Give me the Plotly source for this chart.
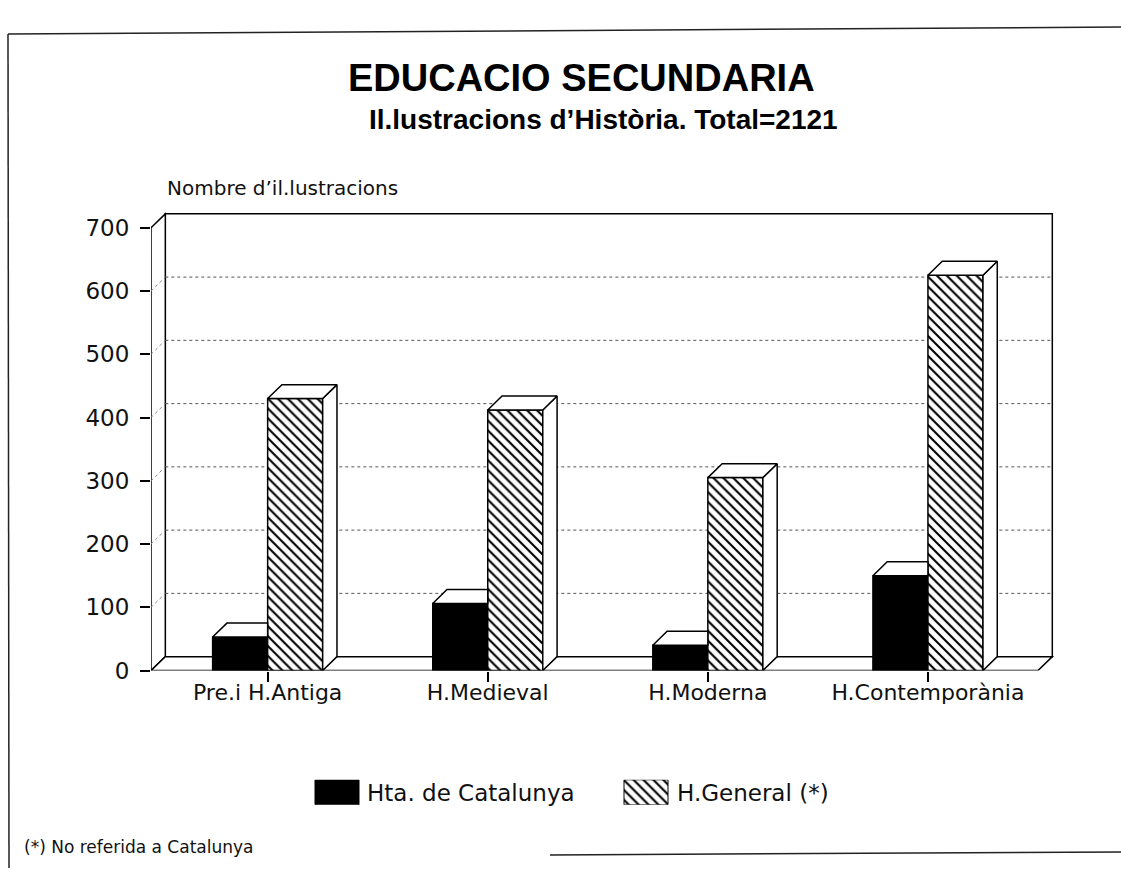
import plotly.graph_objects as go

# data (Total = 2121)
categories = ["Pre.i H.Antiga", "H.Medieval", "H.Moderna", "H.Contemporània"]
catalunya = [53, 106, 40, 150]
general = [430, 412, 305, 625]
y_ticks = [0, 100, 200, 300, 400, 500, 600, 700]
series_names = ["Hta. de Catalunya", "H.General (*)"]

W, H = 1121, 881
H_MAP = 866                       # vertical positions measured on the reference map onto this
x_left, x_right = -0.53, 3.5      # front edges of the floor
depth_x, depth_y = 0.065, 22      # 3D depth offset in data units
bar_w = 0.25
y_top = 700


def px(x):
    return x / W


def py(y):
    return 1 - y / H_MAP


fig = go.Figure()

# front faces
fig.add_trace(go.Bar(
    x=list(range(len(categories))), y=catalunya, width=bar_w, offset=-bar_w,
    marker=dict(color="black", line=dict(color="black", width=1.5)),
    name=series_names[0], showlegend=False, hoverinfo="skip"
))
fig.add_trace(go.Bar(
    x=list(range(len(categories))), y=general, width=bar_w, offset=0,
    marker=dict(color="white", line=dict(color="black", width=1.5),
                pattern=dict(shape="\\", fgcolor="black", bgcolor="white",
                             size=7, solidity=0.3, fillmode="replace")),
    name=series_names[1], showlegend=False, hoverinfo="skip"
))

# top and side faces of the bars
tops_x, tops_y, sides_x, sides_y = [], [], [], []
for i in range(len(categories)):
    # black bar: top only, the part behind the hatched bar is hidden
    x0, x1, v = i - bar_w, i, catalunya[i]
    tops_x += [x0, x0 + depth_x, x1, x1, x0, None]
    tops_y += [v, v + depth_y, v + depth_y, v, v, None]
    # hatched bar: top and right side
    x0, x1, v = i, i + bar_w, general[i]
    tops_x += [x0, x0 + depth_x, x1 + depth_x, x1, x0, None]
    tops_y += [v, v + depth_y, v + depth_y, v, v, None]
    sides_x += [x1, x1, x1 + depth_x, x1 + depth_x, x1, None]
    sides_y += [0, v, v + depth_y, depth_y, 0, None]

for fx, fy in [(sides_x, sides_y), (tops_x, tops_y)]:
    fig.add_trace(go.Scatter(
        x=fx, y=fy, mode="lines", fill="toself", fillcolor="white",
        line=dict(color="black", width=1.5), showlegend=False, hoverinfo="skip"
    ))

# walls, floor and gridlines (behind the bars)
bx0, bx1 = x_left + depth_x, x_right + depth_x
shapes = [
    dict(type="path", xref="x", yref="y", layer="below",
         path=f"M{bx0},{depth_y} L{bx1},{depth_y} L{bx1},{y_top + depth_y} L{bx0},{y_top + depth_y} Z",
         line=dict(color="black", width=1.5), fillcolor="white"),
    dict(type="path", xref="x", yref="y", layer="below",
         path=f"M{x_left},0 L{x_left},{y_top} L{bx0},{y_top + depth_y} L{bx0},{depth_y} Z",
         line=dict(color="black", width=1.5), fillcolor="white"),
    dict(type="path", xref="x", yref="y", layer="below",
         path=f"M{x_left},0 L{x_right},0 L{bx1},{depth_y} L{bx0},{depth_y} Z",
         line=dict(color="black", width=1.5), fillcolor="white"),
]
for v in y_ticks[1:-1]:
    shapes.append(dict(type="line", xref="x", yref="y", layer="below",
                       x0=bx0, x1=bx1, y0=v + depth_y, y1=v + depth_y,
                       line=dict(color="#555", width=1, dash="dot")))
    shapes.append(dict(type="line", xref="x", yref="y", layer="below",
                       x0=x_left, x1=bx0, y0=v, y1=v + depth_y,
                       line=dict(color="#888", width=1, dash="dot")))

# scanned page frame
shapes += [
    dict(type="line", xref="paper", yref="paper", x0=px(8), y0=py(34), x1=1, y1=py(27),
         line=dict(color="#222", width=1.5)),
    dict(type="line", xref="paper", yref="paper", x0=px(8), y0=py(34), x1=px(9), y1=0,
         line=dict(color="#222", width=1.5)),
    dict(type="line", xref="paper", yref="paper", x0=px(550), y0=py(853), x1=1, y1=py(850),
         line=dict(color="#222", width=1.5)),
]

# legend swatches drawn on their own small axes
legend_x = [337, 646]
fig.add_trace(go.Bar(
    x=[legend_x[0]], y=[1], width=44, xaxis="x2", yaxis="y2",
    marker=dict(color="black", line=dict(color="black", width=1)),
    showlegend=False, hoverinfo="skip"
))
fig.add_trace(go.Bar(
    x=[legend_x[1]], y=[1], width=44, xaxis="x2", yaxis="y2",
    marker=dict(color="white", line=dict(color="black", width=1),
                pattern=dict(shape="\\", fgcolor="black", bgcolor="white",
                             size=7, solidity=0.3, fillmode="replace")),
    showlegend=False, hoverinfo="skip"
))

label_font = dict(family="DejaVu Sans", size=22, color="#111")
annotations = [
    dict(text="EDUCACIO SECUNDARIA", x=px(581), y=py(78), xanchor="center",
         font=dict(family="Liberation Sans", size=38, color="black", weight="bold")),
    dict(text="Il.lustracions d\u2019Història. Total=2121", x=px(603), y=py(119), xanchor="center",
         font=dict(family="Liberation Sans", size=28, color="black", weight="bold")),
    dict(text="Nombre d\u2019il.lustracions", x=px(165), y=py(188), xanchor="left",
         font=dict(family="DejaVu Sans", size=20, color="#111")),
    dict(text=series_names[0], x=px(365), y=py(791), xanchor="left",
         font=dict(family="DejaVu Sans", size=23, color="#111")),
    dict(text=series_names[1], x=px(675), y=py(791), xanchor="left",
         font=dict(family="DejaVu Sans", size=23, color="#111")),
    dict(text="(*) No referida a Catalunya", x=px(22), y=py(845), xanchor="left",
         font=dict(family="DejaVu Sans", size=17, color="#111")),
]
for a in annotations:
    a.update(xref="paper", yref="paper", yanchor="middle", showarrow=False)

fig.update_layout(
    width=W, height=H,
    margin=dict(l=0, r=0, t=0, b=0),
    paper_bgcolor="white", plot_bgcolor="rgba(0,0,0,0)",
    barmode="overlay", showlegend=False,
    shapes=shapes, annotations=annotations,
    xaxis=dict(domain=[px(151), px(1060)], range=[x_left, 3.6],
               tickvals=list(range(len(categories))), ticktext=categories,
               ticks="outside", ticklen=10, tickwidth=1.5, tickcolor="black",
               showline=False, showgrid=False, zeroline=False,
               ticklabelstandoff=-8,
               tickfont=label_font, fixedrange=True),
    yaxis=dict(domain=[py(669), py(202)], range=[0, 740],
               tickvals=y_ticks, ticks="outside", ticklen=10, tickwidth=1.5,
               tickcolor="black", showline=False, showgrid=False, zeroline=False,
               ticklabelstandoff=6,
               tickfont=dict(family="DejaVu Sans", size=23, color="#111"), fixedrange=True),
    xaxis2=dict(domain=[0, 1], range=[0, W], visible=False, anchor="y2", fixedrange=True),
    yaxis2=dict(domain=[py(803), py(778)], range=[0, 1], visible=False, anchor="x2", fixedrange=True),
)

# the page body has an 8px default margin and may scroll; pin the figure to the window
fig.write_html(
    "out.html",
    config={"displayModeBar": False},
    post_script="document.body.style.margin='0';"
                "document.body.style.overflow='hidden';"
                "document.documentElement.style.overflow='hidden';",
)
